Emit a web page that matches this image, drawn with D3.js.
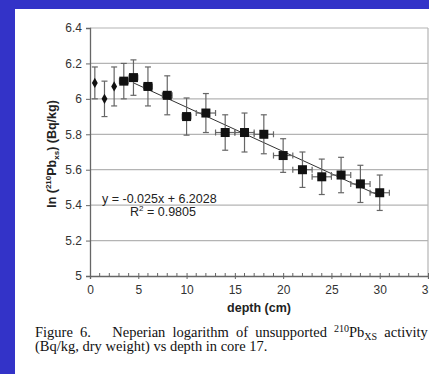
<!DOCTYPE html>
<html>
<head>
<meta charset="utf-8">
<script src="https://cdn.jsdelivr.net/npm/d3@7"></script>
<style>
  html, body { margin: 0; padding: 0; background: #3333c8; }
  svg { display: block; }
  text { font-family: "Liberation Sans", Arial, sans-serif; }
  .caption { font-family: "Liberation Serif", "Times New Roman", serif; white-space: pre; }
</style>
</head>
<body>
<svg id="chart" width="429" height="374"></svg>
<script>
// first three points (small diamonds, no trend)
const depthTop = [0.5, 1.5, 2.5];
const lnTop = [6.09, 6.00, 6.07];
const errTop = [0.09, 0.10, 0.11];

// main series (squares, with x and y error bars)
const depth = [3.5, 4.5, 6, 8, 10, 12, 14, 16, 18, 20, 22, 24, 26, 28, 30];
const lnPb = [6.10, 6.12, 6.07, 6.02, 5.90, 5.92, 5.81, 5.81, 5.80, 5.68, 5.60, 5.56, 5.57, 5.52, 5.47];
const yErr = [0.10, 0.10, 0.11, 0.11, 0.105, 0.11, 0.10, 0.11, 0.11, 0.095, 0.10, 0.10, 0.10, 0.105, 0.10];
const xErr = [0.45, 0.45, 0.45, 0.5, 0.45, 1, 1, 1, 1, 1, 1, 1, 1, 1, 1];

// linear trend y = -0.025x + 6.2028
const slope = -0.025, intercept = 6.2028;
const trendRange = [4.5, 30];

const xTicks = [0, 5, 10, 15, 20, 25, 30, 35];
const yTicks = [5, 5.2, 5.4, 5.6, 5.8, 6, 6.2, 6.4];

const svg = d3.select('#chart');

// white page
svg.append('rect')
  .attr('x', 15).attr('y', 9)
  .attr('width', 414).attr('height', 365)
  .attr('fill', '#fff');

const m = { left: 90, right: 428, top: 28, bottom: 276 };

const x = d3.scaleLinear().domain([0, 35]).range([m.left, m.right]);
const y = d3.scaleLinear().domain([5, 6.4]).range([m.bottom, m.top]);

// grid
svg.append('g')
  .selectAll('line')
  .data(yTicks.slice(1))
  .join('line')
  .attr('x1', m.left).attr('x2', m.right)
  .attr('y1', d => y(d)).attr('y2', d => y(d))
  .attr('stroke', '#b4b4b4').attr('stroke-width', 1.2);

svg.append('line')
  .attr('x1', m.right).attr('x2', m.right)
  .attr('y1', m.top).attr('y2', m.bottom)
  .attr('stroke', '#b4b4b4').attr('stroke-width', 1.2);

// y axis
const yAxis = svg.append('g')
  .attr('transform', `translate(${m.left},0)`)
  .call(d3.axisLeft(y).tickValues(yTicks).tickSize(4).tickPadding(4)
    .tickFormat(d => d3.format('~g')(d)));
yAxis.select('.domain').attr('stroke', '#666').attr('stroke-width', 1.3);
yAxis.selectAll('.tick line').attr('stroke', '#666');
yAxis.selectAll('.tick text')
  .attr('fill', '#333').style('font-size', '12px')
  .style('font-family', '"Liberation Sans", Arial, sans-serif');

// x axis: minor ticks inside, major ticks crossing
const xAxis = svg.append('g')
  .attr('transform', `translate(0,${m.bottom})`)
  .call(d3.axisBottom(x).tickValues(xTicks).tickSize(3).tickPadding(6));
xAxis.select('.domain').attr('stroke', '#666').attr('stroke-width', 1.3);
xAxis.selectAll('.tick line').attr('stroke', '#666').attr('y1', -3);
xAxis.selectAll('.tick text')
  .attr('fill', '#333').style('font-size', '12px')
  .style('font-family', '"Liberation Sans", Arial, sans-serif');

svg.append('g')
  .selectAll('line')
  .data(d3.range(1, 35).filter(d => d % 5 !== 0))
  .join('line')
  .attr('x1', d => x(d)).attr('x2', d => x(d))
  .attr('y1', m.bottom).attr('y2', m.bottom - 3)
  .attr('stroke', '#666');

// axis titles
svg.append('text')
  .attr('x', x(17.5)).attr('y', 312)
  .attr('text-anchor', 'middle')
  .style('font-size', '12.5px').style('font-weight', 'bold')
  .attr('fill', '#222')
  .text('depth (cm)');

const yl = svg.append('text')
  .attr('transform', `translate(56,${(m.top + m.bottom) / 2 + 2}) rotate(-90)`)
  .attr('text-anchor', 'middle')
  .style('font-size', '12.5px').style('font-weight', 'bold')
  .attr('fill', '#222');
yl.append('tspan').text('ln (');
yl.append('tspan').attr('dy', -5).style('font-size', '8px').text('210');
yl.append('tspan').attr('dy', 5).text('Pb');
yl.append('tspan').attr('dy', 3).style('font-size', '8px').text('xs');
yl.append('tspan').attr('dy', -3).text(') (Bq/kg)');

// trend line
svg.append('line')
  .attr('x1', x(trendRange[0])).attr('y1', y(slope * trendRange[0] + intercept))
  .attr('x2', x(trendRange[1])).attr('y2', y(slope * trendRange[1] + intercept))
  .attr('stroke', '#333').attr('stroke-width', 1);

const ebColor = '#666';
const cap = 3;

// error bars, first points
const eTop = svg.append('g').attr('stroke', ebColor).attr('stroke-width', 1.2);
depthTop.forEach((d, i) => {
  const cx = x(d);
  const y0 = y(lnTop[i] - errTop[i]), y1 = y(lnTop[i] + errTop[i]);
  eTop.append('line').attr('x1', cx).attr('x2', cx).attr('y1', y0).attr('y2', y1);
  eTop.append('line').attr('x1', cx - cap).attr('x2', cx + cap).attr('y1', y0).attr('y2', y0);
  eTop.append('line').attr('x1', cx - cap).attr('x2', cx + cap).attr('y1', y1).attr('y2', y1);
});

// error bars, main series
const eMain = svg.append('g').attr('stroke', ebColor).attr('stroke-width', 1.2);
depth.forEach((d, i) => {
  const cx = x(d), cy = y(lnPb[i]);
  const y0 = y(lnPb[i] - yErr[i]), y1 = y(lnPb[i] + yErr[i]);
  const x0 = x(d - xErr[i]), x1 = x(d + xErr[i]);
  eMain.append('line').attr('x1', cx).attr('x2', cx).attr('y1', y0).attr('y2', y1);
  eMain.append('line').attr('x1', cx - cap).attr('x2', cx + cap).attr('y1', y0).attr('y2', y0);
  eMain.append('line').attr('x1', cx - cap).attr('x2', cx + cap).attr('y1', y1).attr('y2', y1);
  eMain.append('line').attr('x1', x0).attr('x2', x1).attr('y1', cy).attr('y2', cy);
  eMain.append('line').attr('x1', x0).attr('x2', x0).attr('y1', cy - cap).attr('y2', cy + cap);
  eMain.append('line').attr('x1', x1).attr('x2', x1).attr('y1', cy - cap).attr('y2', cy + cap);
});

// markers
svg.append('g')
  .selectAll('path')
  .data(depthTop.map((d, i) => [d, lnTop[i]]))
  .join('path')
  .attr('transform', d => `translate(${x(d[0])},${y(d[1])})`)
  .attr('d', d3.symbol(d3.symbolDiamond, 30))
  .attr('fill', '#111');

svg.append('g')
  .selectAll('rect')
  .data(depth.map((d, i) => [d, lnPb[i]]))
  .join('rect')
  .attr('x', d => x(d[0]) - 4.5).attr('y', d => y(d[1]) - 4.5)
  .attr('width', 9).attr('height', 9)
  .attr('fill', '#111');

// equation
svg.append('text')
  .attr('x', 102).attr('y', 203)
  .style('font-size', '12.5px').attr('fill', '#222')
  .text('y = -0.025x + 6.2028');
const r2 = svg.append('text')
  .attr('x', 130).attr('y', 216)
  .style('font-size', '12.5px').attr('fill', '#222');
r2.append('tspan').text('R');
r2.append('tspan').attr('dy', -5).style('font-size', '8px').text('2');
r2.append('tspan').attr('dy', 5).text(' = 0.9805');

// caption (first line justified in the source, so wider word gaps)
const c1 = svg.append('text').attr('class', 'caption')
  .attr('x', 35).attr('y', 337)
  .style('font-size', '14.5px').style('word-spacing', '3.5px').attr('fill', '#111');
c1.append('tspan').text('Figure 6.   Neperian logarithm of unsupported ');
c1.append('tspan').attr('dy', -5).style('font-size', '10px').text('210');
c1.append('tspan').attr('dy', 5).text('Pb');
c1.append('tspan').attr('dy', 3).style('font-size', '10px').text('XS');
c1.append('tspan').attr('dy', -3).text(' activity');

svg.append('text').attr('class', 'caption')
  .attr('x', 35).attr('y', 351)
  .style('font-size', '14.5px').attr('fill', '#111')
  .text('(Bq/kg, dry weight) vs depth in core 17.');
</script>
</body>
</html>
